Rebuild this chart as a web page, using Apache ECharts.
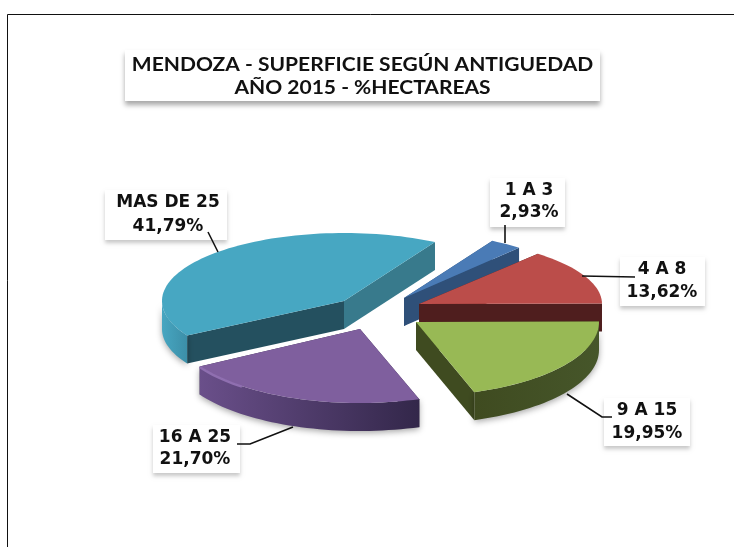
<!DOCTYPE html>
<html><head><meta charset="utf-8">
<style>html,body{margin:0;padding:0;background:#fff}#c{width:734px;height:547px}</style>
<script src="https://cdn.jsdelivr.net/npm/echarts@6/dist/echarts.min.js"></script>
</head><body><div id="c"></div>
<script>
const titleLines = ['MENDOZA - SUPERFICIE SEGÚN ANTIGUEDAD', 'AÑO 2015 - %HECTAREAS'];
const categories = ['1 A 3', '4 A 8', '9 A 15', '16 A 25', 'MAS DE 25'];
const values = [2.93, 13.62, 19.95, 21.70, 41.79];

// Projection of the tilted, exploded pie (layout only)
const startAngle = 60, depth = 28;
const apexX = [404, 419, 416, 360, 344];
const apexY = [298, 304, 322, 329, 301];
const radiusY = [66, 66, 74, 74, 68];
const radiusX = [177, 183, 183, 186, 182];
const paintOrder = [0, 2, 4, 3, 1];
const topColor = ['#4a7bb6', '#bb4d4a', '#98b955', '#7f5f9e', '#47a7c2'];
const sideColor = ['#2f5079', '#4f1e1e', '#3f4b20', '#6a4f8a', '#47a6c1'];
const rimEnd = ['#2f5079', '#4f1e1e', '#46562a', '#33274a', '#3c8fa8'];
const nearCut = ['#2f5079', '#4f1e1e', '#3f4b20', '#33274a', '#387a8c'];
const farCut = ['#2f5079', '#4f1e1e', '#3f4b20', '#33274a', '#24505f'];
const bevel = [null, null, null, '#8f6fb0', '#33c0ea'];
const boxes = [[490,178,75,49],[620,257,85,49],[604,398,86,48],[153,425,87,48],[105,190,122,50]];
const textCx = [529,662,647,195,168];
const textY = [191,270,411,438,203];
const lineGap = [22,23,23,22,24];
const leaders = [
  [[505,225],[505,243]],
  [[635,277],[582,276]],
  [[612,417],[602,417],[567,394]],
  [[237,444],[250,444],[293,427]],
  [[208,232],[218,252]]
];

const total = values.reduce((a, b) => a + b, 0);
const rad = d => d * Math.PI / 180;

function renderSlice(params, api) {
  const i = params.dataIndex;
  let before = 0;
  for (let k = 0; k < i; k++) before += values[k];
  const a0 = startAngle - before / total * 360;
  const a1 = a0 - api.value(1) / total * 360;
  const cx = apexX[i], cy = apexY[i], rX = radiusX[i], rY = radiusY[i];
  const pt = (t, d) => [cx + rX * Math.cos(rad(t)), cy - rY * Math.sin(rad(t)) + (d || 0)];
  const arc = (from, to, d) => {
    const n = Math.max(2, Math.ceil(Math.abs(from - to) / 2));
    const out = [];
    for (let k = 0; k <= n; k++) out.push(pt(from + (to - from) * k / n, d));
    return out;
  };
  const z = 10 * paintOrder[i];
  const children = [];
  const poly = (points, fill, zz, extra) => children.push({
    type: 'polygon', shape: { points }, style: Object.assign({ fill }, extra || {}), z2: z + zz
  });
  const apex = [cx, cy], apexD = [cx, cy + depth];
  // far cut, then near cut
  poly([apex, pt(a0), pt(a0, depth), apexD], farCut[i], 1);
  poly([apex, pt(a1), pt(a1, depth), apexD], nearCut[i], 2);
  // outer rim, only where it faces the viewer
  const hi = Math.min(0, a0), lo = Math.max(-180, a1);
  if (hi > lo) {
    const front = arc(hi, lo, 0), back = arc(lo, hi, depth);
    poly(front.concat(back), new echarts.graphic.LinearGradient(0, 0, 1, 0, [
      { offset: 0, color: sideColor[i] }, { offset: 1, color: rimEnd[i] }
    ]), 3, { shadowBlur: 6, shadowColor: 'rgba(0,0,0,0.35)', shadowOffsetY: 2 });
    if (bevel[i]) {
      const b0 = Math.max(lo, hi - (i === 3 ? 58 : 40));
      children.push({ type: 'polyline', shape: { points: arc(lo, b0, 0.5) },
        style: { stroke: bevel[i], lineWidth: 2.5, fill: null }, z2: z + 5 });
    }
  }
  // top face
  poly([apex].concat(arc(a0, a1, 0)), topColor[i], 4);

  // leader and label
  children.push({ type: 'polyline', shape: { points: leaders[i] },
    style: { stroke: '#111', lineWidth: 1.6, fill: null }, z2: 100 });
  const b = boxes[i];
  children.push({ type: 'rect', shape: { x: b[0], y: b[1], width: b[2], height: b[3] },
    style: { fill: '#fff', shadowBlur: 4, shadowColor: 'rgba(0,0,0,0.22)', shadowOffsetY: 3 }, z2: 99 });
  const label = [categories[i], api.value(1).toFixed(2).replace('.', ',') + '%'];
  label.forEach((s, k) => children.push({ type: 'text', z2: 101,
    style: { text: s, x: textCx[i], y: textY[i] + k * lineGap[i], align: 'center', verticalAlign: 'middle',
      fontFamily: 'DejaVu Sans', fontWeight: 'bold', fontSize: 17, fill: '#111' } }));
  return { type: 'group', children };
}

const chart = echarts.init(document.getElementById('c'), null, { renderer: 'canvas' });
chart.setOption({
  animation: false,
  backgroundColor: '#fff',
  graphic: { elements: [
    { type: 'polyline', silent: true, z: -1, shape: { points: [[7.5, 547], [7.5, 14.5], [734, 14.5]] }, style: { stroke: '#111', lineWidth: 1, fill: null } },
    { type: 'rect', silent: true, z: -1, shape: { x: 125, y: 50, width: 475, height: 51 }, style: { fill: '#fff', shadowBlur: 5, shadowColor: 'rgba(0,0,0,0.35)', shadowOffsetY: 4 } }
  ].concat(titleLines.map((s, k) => ({
    type: 'text', silent: true, z: 5, x: 362.5, y: 65 + k * 23, scaleX: 1.136,
    style: { text: s, align: 'center', verticalAlign: 'middle', fontFamily: 'Lato', fontWeight: 'bold', fontSize: 18.5, fill: '#111' }
  }))) },
  series: [{
    type: 'custom', coordinateSystem: 'none', renderItem: renderSlice, silent: true,
    data: values.map((v, i) => [i, v])
  }]
});
</script></body></html>
